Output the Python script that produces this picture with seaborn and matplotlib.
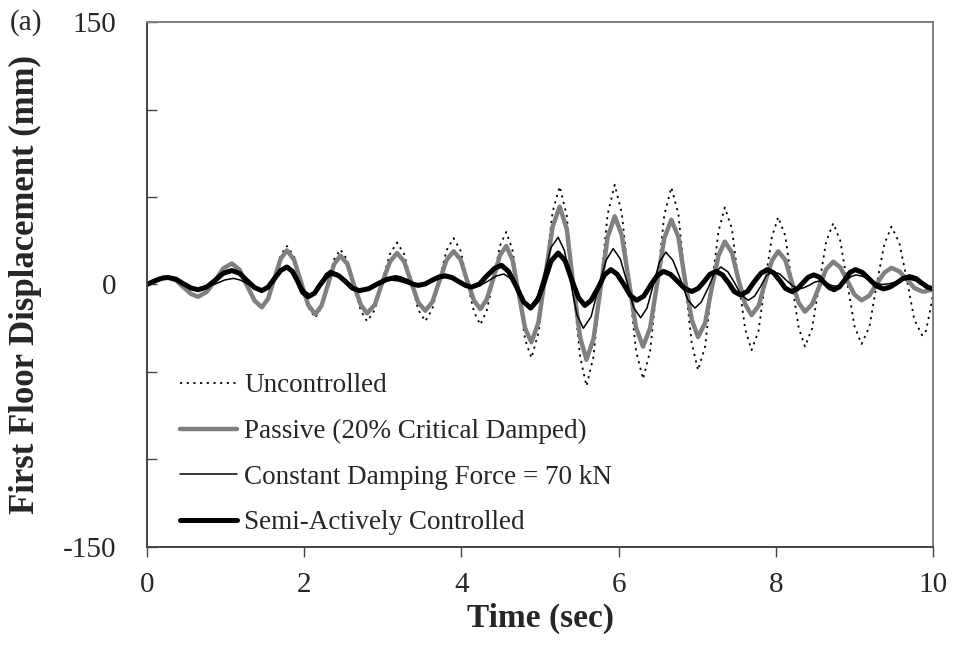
import numpy as np
import pandas as pd
import matplotlib
matplotlib.use("Agg")
import matplotlib.pyplot as plt
import seaborn as sns

# ---------------- data ----------------
t_main = [0.00, 0.07, 0.14, 0.20, 0.27, 0.37, 0.46, 0.56, 0.65, 0.76, 0.87, 0.97,
          1.08, 1.18, 1.27, 1.37, 1.46, 1.54, 1.62, 1.70, 1.78, 1.87, 1.96, 2.05,
          2.14, 2.22, 2.30, 2.38, 2.46, 2.55, 2.63, 2.72, 2.80, 2.90, 2.99, 3.09,
          3.18, 3.27, 3.36, 3.45, 3.54, 3.63, 3.72, 3.81, 3.90, 3.99, 4.07, 4.16,
          4.24, 4.32, 4.41, 4.49, 4.57, 4.65, 4.73, 4.81, 4.89, 4.98, 5.07, 5.16,
          5.25, 5.34, 5.42, 5.51, 5.59, 5.68, 5.77, 5.86, 5.95, 6.04, 6.13, 6.22,
          6.31, 6.40, 6.49, 6.58, 6.67, 6.76, 6.84, 6.93, 7.01, 7.10, 7.18, 7.27,
          7.35, 7.44, 7.52, 7.61, 7.69, 7.78, 7.86, 7.95, 8.03, 8.12, 8.20, 8.29,
          8.37, 8.46, 8.55, 8.64, 8.73, 8.82, 8.91, 9.00, 9.09, 9.19, 9.28, 9.38,
          9.47, 9.57, 9.67, 9.76, 9.86, 9.90, 9.93, 9.97, 10.00]

uncontrolled = [0.0, 1.7, 3.2, 4.2, 4.5, 2.7, -1.5, -5.7, -7.5, -4.6, 2.5, 9.6,
                12.5, 8.6, -0.8, -10.1, -14.0, -8.7, 4.0, 16.7, 22.0, 16.0, 1.5, -13.0,
                -19.0, -13.3, 0.5, 14.3, 20.0, 14.0, -0.5, -15.0, -21.0, -14.4, 1.5, 17.4,
                24.0, 17.4, 1.5, -14.4, -21.0, -14.0, 2.8, 19.5, 26.5, 19.2, 1.8, -15.7,
                -23.0, -15.2, 3.5, 22.2, 30.0, 19.5, -6.0, -31.5, -42.0, -27.6, 7.0, 41.6,
                56.0, 39.3, -1.0, -41.3, -58.0, -41.2, -0.5, 40.2, 57.0, 40.7, 1.5, -37.7,
                -54.0, -38.0, 0.8, 39.5, 55.5, 40.2, 3.3, -33.7, -49.0, -35.4, -2.5, 30.4,
                44.0, 32.1, 3.3, -25.6, -37.5, -26.4, 0.5, 27.4, 38.5, 27.7, 1.5, -24.7,
                -35.5, -25.2, -0.3, 24.7, 35.0, 24.9, 0.5, -23.9, -34.0, -24.2, -0.5, 23.2,
                33.0, 23.9, 2.0, -19.9, -29.0, -28.0, -22.0, -13.0, -5.0]

passive = [0.0, 1.5, 2.8, 3.7, 4.0, 2.4, -1.5, -5.4, -7.0, -4.2, 2.5, 9.2,
           12.0, 8.3, -0.5, -9.3, -13.0, -8.2, 3.3, 14.7, 19.5, 14.2, 1.3, -11.7,
           -17.0, -12.1, -0.3, 11.6, 16.5, 11.7, 0.0, -11.7, -16.5, -11.4, 0.8, 13.0,
           18.0, 13.2, 1.5, -10.2, -15.0, -10.0, 2.0, 14.0, 19.0, 14.2, 2.5, -9.2,
           -14.0, -8.7, 4.0, 16.7, 22.0, 14.0, -5.5, -25.0, -33.0, -21.6, 5.8, 33.1,
           44.5, 31.7, 0.8, -30.2, -43.0, -31.0, -2.0, 27.0, 39.0, 28.1, 1.8, -24.6,
           -35.5, -24.9, 0.8, 26.4, 37.0, 27.2, 3.5, -20.2, -30.0, -22.0, -2.8, 16.5,
           24.5, 18.3, 3.5, -11.3, -17.5, -12.2, 0.8, 13.7, 19.0, 14.0, 1.8, -10.4,
           -15.5, -11.3, -1.3, 8.8, 13.0, 9.8, 2.0, -5.8, -9.0, -6.3, 0.3, 6.8,
           9.5, 7.5, 2.8, -2.0, -4.0, -4.0, -3.5, -3.2, -3.0]

t_semi = [0.00, 0.07, 0.14, 0.20, 0.27, 0.37, 0.46, 0.56, 0.65, 0.76, 0.87, 0.97,
          1.08, 1.18, 1.27, 1.37, 1.46, 1.54, 1.62, 1.70, 1.78, 1.85, 1.92, 1.98,
          2.05, 2.13, 2.20, 2.28, 2.35, 2.44, 2.53, 2.61, 2.70, 2.82, 2.93, 3.05,
          3.16, 3.23, 3.31, 3.38, 3.45, 3.54, 3.62, 3.71, 3.79, 3.88, 3.96, 4.05,
          4.13, 4.23, 4.32, 4.42, 4.51, 4.60, 4.70, 4.79, 4.88, 4.97, 5.06, 5.14,
          5.23, 5.32, 5.40, 5.49, 5.57, 5.65, 5.74, 5.82, 5.90, 5.98, 6.07, 6.15,
          6.23, 6.32, 6.40, 6.49, 6.57, 6.66, 6.75, 6.84, 6.93, 7.01, 7.09, 7.16,
          7.24, 7.32, 7.40, 7.47, 7.55, 7.64, 7.72, 7.81, 7.89, 7.97, 8.05, 8.12,
          8.20, 8.27, 8.34, 8.41, 8.48, 8.55, 8.61, 8.68, 8.74, 8.81, 8.88, 8.94,
          9.01, 9.10, 9.19, 9.28, 9.37, 9.45, 9.54, 9.62, 9.70, 9.78, 9.85, 9.93, 10.00]

semi_active = [0.0, 1.5, 2.8, 3.7, 4.0, 3.0, 0.5, -2.0, -3.0, -1.4, 2.5, 6.4,
               8.0, 6.3, 2.3, -1.8, -3.5, -1.5, 3.3, 8.0, 10.0, 7.5, 1.5, -4.5,
               -7.0, -5.0, -0.3, 4.5, 6.5, 5.0, 1.5, -2.0, -3.5, -2.4, 0.3, 2.9,
               4.0, 3.3, 1.8, 0.2, -0.5, 0.3, 2.3, 4.2, 5.0, 4.0, 1.8, -0.5,
               -1.5, 0.3, 4.8, 9.2, 11.0, 7.4, -1.3, -9.9, -13.5, -8.9, 2.3, 13.4,
               18.0, 13.6, 3.0, -7.6, -12.0, -9.0, -1.8, 5.5, 8.5, 5.9, -0.3, -6.4,
               -9.0, -6.6, -0.8, 5.1, 7.5, 5.8, 1.8, -2.3, -4.0, -2.3, 1.8, 5.8,
               7.5, 5.5, 0.8, -4.0, -6.0, -3.9, 1.3, 6.4, 8.5, 6.7, 2.3, -2.2,
               -4.0, -2.6, 0.8, 4.1, 5.5, 4.3, 1.3, -1.8, -3.0, -1.3, 2.8, 6.8,
               8.5, 6.9, 3.0, -0.9, -2.5, -1.5, 1.0, 3.5, 4.5, 3.5, 1.0, -1.5, -2.5]

t_const = [0.00, 0.07, 0.14, 0.20, 0.27, 0.37, 0.46, 0.56, 0.65, 0.76, 0.88, 0.99,
           1.10, 1.19, 1.28, 1.37, 1.46, 1.54, 1.62, 1.70, 1.78, 1.86, 1.93, 2.01,
           2.08, 2.14, 2.21, 2.27, 2.33, 2.42, 2.52, 2.61, 2.70, 2.80, 2.90, 3.00,
           3.10, 3.19, 3.28, 3.36, 3.45, 3.54, 3.62, 3.71, 3.79, 3.88, 3.96, 4.05,
           4.13, 4.23, 4.34, 4.44, 4.54, 4.63, 4.71, 4.80, 4.88, 4.97, 5.06, 5.14,
           5.23, 5.31, 5.39, 5.47, 5.55, 5.65, 5.74, 5.84, 5.93, 6.02, 6.11, 6.19,
           6.28, 6.36, 6.44, 6.52, 6.60, 6.69, 6.79, 6.88, 6.97, 7.05, 7.14, 7.22,
           7.30, 7.39, 7.48, 7.56, 7.65, 7.73, 7.81, 7.88, 7.96, 8.05, 8.13, 8.22,
           8.30, 8.36, 8.43, 8.49, 8.55, 8.60, 8.66, 8.71, 8.76, 8.83, 8.89, 8.96,
           9.02, 9.10, 9.19, 9.27, 9.35, 9.44, 9.53, 9.61, 9.70, 9.78, 9.85, 9.93, 10.00]

constant_force = [0.0, 1.5, 2.8, 3.7, 4.0, 3.0, 0.8, -1.5, -2.5, -1.6, 0.5, 2.6,
                  3.5, 2.5, 0.3, -2.0, -3.0, -1.2, 3.0, 7.2, 9.0, 6.8, 1.5, -3.8,
                  -6.0, -4.0, 1.0, 6.0, 8.0, 6.4, 2.5, -1.4, -3.0, -2.2, -0.3, 1.7,
                  2.5, 2.1, 1.0, -0.1, -0.5, 0.2, 1.8, 3.3, 4.0, 3.1, 1.0, -1.1,
                  -2.0, -0.8, 2.0, 4.8, 6.0, 3.3, -3.3, -9.8, -12.5, -6.7, 7.3, 21.2,
                  27.0, 19.4, 1.0, -17.4, -25.0, -18.3, -2.3, 13.8, 20.5, 14.7, 0.8, -13.2,
                  -19.0, -13.5, -0.3, 13.0, 18.5, 13.8, 2.5, -8.8, -13.5, -10.1, -1.8, 6.6,
                  10.0, 7.2, 0.5, -6.2, -9.0, -6.6, -0.8, 5.1, 7.5, 6.0, 2.5, -1.0,
                  -2.5, -1.8, -0.3, 1.3, 2.0, 1.6, 0.5, -0.6, -1.0, -0.1, 2.3, 4.6,
                  5.5, 4.7, 2.8, 0.8, 0.0, 0.4, 1.5, 2.6, 3.0, 2.1, 0.0, -2.1, -3.0]

labels = ["Uncontrolled", "Passive (20% Critical Damped)",
          "Constant Damping Force = 70 kN", "Semi-Actively Controlled"]
x_ticks = [0, 2, 4, 6, 8, 10]
y_ticks = [-150, -100, -50, 0, 50, 100, 150]
y_ticklabels = ["-150", "", "", "0", "", "", "150"]

# ---------------- style ----------------
sns.set_theme(style="white")
plt.rcParams["font.family"] = ["Liberation Serif", "DejaVu Serif"]

df_main = pd.DataFrame({"t": t_main, "u": uncontrolled, "p": passive})
df_semi = pd.DataFrame({"t": t_semi, "s": semi_active})
df_const = pd.DataFrame({"t": t_const, "c": constant_force})

fig = plt.figure(figsize=(9.54, 6.55), dpi=100)
ax = fig.add_axes([0.1541, 0.1649, 0.8240, 0.8015])

sns.lineplot(data=df_main, x="t", y="u", ax=ax, color="black", linewidth=1.3,
             linestyle=(0, (1.2, 2.5)), label=labels[0], estimator=None, sort=False)
sns.lineplot(data=df_main, x="t", y="p", ax=ax, color="#808080", linewidth=3.2,
             label=labels[1], estimator=None, sort=False)
sns.lineplot(data=df_const, x="t", y="c", ax=ax, color="black", linewidth=1.1,
             label=labels[2], estimator=None, sort=False)
sns.lineplot(data=df_semi, x="t", y="s", ax=ax, color="black", linewidth=3.6,
             label=labels[3], estimator=None, sort=False)

ax.set_xlim(0, 10)
ax.set_ylim(-150, 150)
ax.set_xticks(x_ticks)
ax.set_xticklabels([str(v) for v in x_ticks])
ax.set_yticks(y_ticks)
ax.set_yticklabels(y_ticklabels)

for s in ax.spines.values():
    s.set_visible(True)
    s.set_color("#7f7f7f")
    s.set_linewidth(1.4)
ax.spines["left"].set_color("#444444")
ax.spines["bottom"].set_color("#444444")

ax.tick_params(axis="x", direction="out", length=7, width=1, color="#444444",
               labelsize=21, pad=11, bottom=True)
ax.tick_params(axis="y", direction="in", length=7, width=1, color="#444444",
               labelsize=21, pad=22, left=True)

ax.set_xlabel("Time (sec)", fontsize=24, fontweight="bold")
ax.set_ylabel("First Floor Displacement (mm)", fontsize=25, fontweight="bold")
ax.xaxis.set_label_coords(0.5, -0.106)
ax.yaxis.set_label_coords(-0.133, 0.5)

fig.text(0.010, 0.966, "(a)", fontsize=21, va="center", ha="left")

leg = ax.legend(loc="lower left", bbox_to_anchor=(0.018, -0.014), frameon=False,
                fontsize=19.5, handlelength=2.1, handletextpad=0.26,
                labelspacing=0.76, borderaxespad=0.3)

fig.savefig("out.png", dpi=100)
